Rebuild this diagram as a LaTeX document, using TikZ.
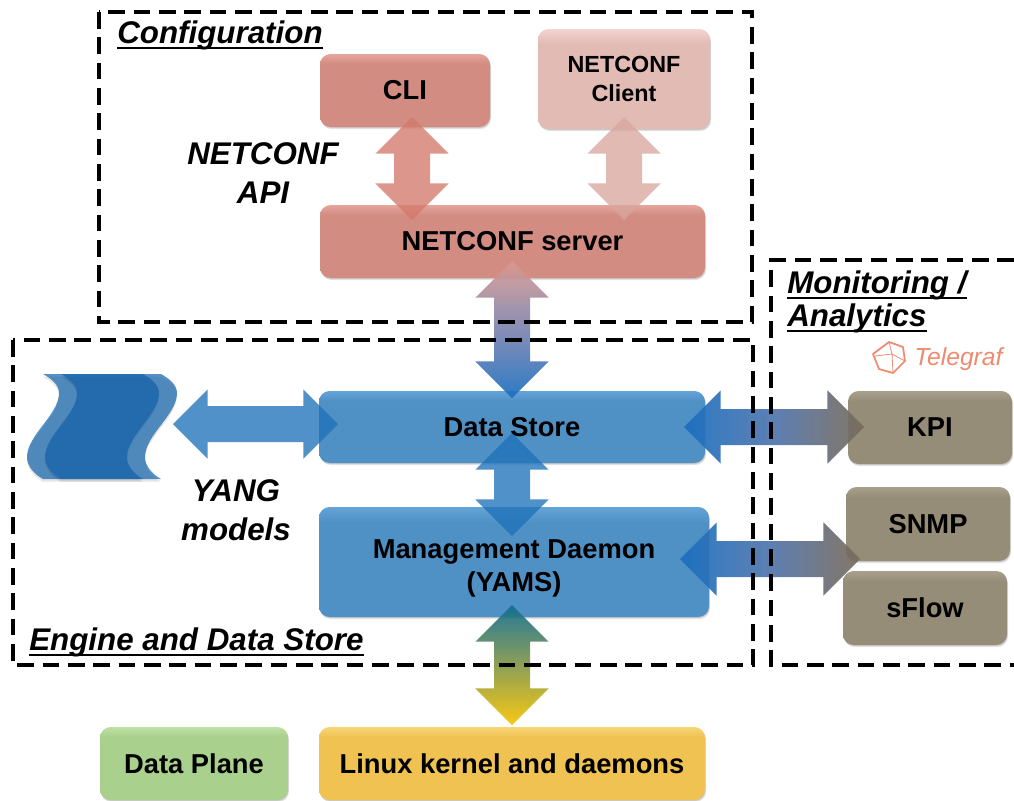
\documentclass[tikz,border=0pt]{standalone}
\usepackage{fontspec}
\setmainfont{Liberation Sans}
\usetikzlibrary{calc,shadows}
\definecolor{cPink}{HTML}{D28C82}
\definecolor{cPinkTop}{HTML}{E6A59B}
\definecolor{cPale}{HTML}{E3BBB5}
\definecolor{cPaleTop}{HTML}{F2D4CF}
\definecolor{cBlue}{HTML}{4F90C5}
\definecolor{cBlueTop}{HTML}{64A4D8}
\definecolor{cTaupe}{HTML}{968D79}
\definecolor{cTaupeTop}{HTML}{A89F8C}
\definecolor{cGreen}{HTML}{A9D08C}
\definecolor{cGreenTop}{HTML}{BDE0A4}
\definecolor{cYellow}{HTML}{EFC252}
\definecolor{cYellowTop}{HTML}{F8D676}
\definecolor{cArrowBlue}{HTML}{1A6FC0}
\definecolor{cArrowSoft}{HTML}{1F72BA}
\definecolor{cArrowPink}{HTML}{DC9A90}
\definecolor{cArrowCli}{HTML}{D4796B}
\definecolor{cArrowPale}{HTML}{D8A69E}
\definecolor{cArrowTeal}{HTML}{0F6C90}
\definecolor{cArrowGold}{HTML}{F7C400}
\definecolor{cArrowBrown}{HTML}{7A6B57}
\definecolor{cArrowMid}{HTML}{4F74AC}
\definecolor{cArrowMidV}{HTML}{7C84B0}
\definecolor{cWave}{HTML}{1565AD}
\definecolor{cTele}{HTML}{EE8A70}
\newcommand{\mkshade}[3]{\pgfdeclareverticalshading{#1}{100bp}{color(0bp)=(#2); color(68bp)=(#2); color(75bp)=(#3); color(100bp)=(#3)}}
\mkshade{shPink}{cPink}{cPinkTop}
\mkshade{shPale}{cPale}{cPaleTop}
\mkshade{shBlue}{cBlue}{cBlueTop}
\mkshade{shTaupe}{cTaupe}{cTaupeTop}
\mkshade{shGreen}{cGreen}{cGreenTop}
\mkshade{shYellow}{cYellow}{cYellowTop}
\tikzset{
  x=0.75pt,y=-0.75pt,
  softshadow/.style={general shadow={shadow xshift=0.8pt,shadow yshift=-1.6pt,fill=black,opacity=0.10},
                     general shadow={shadow xshift=0.4pt,shadow yshift=-0.8pt,fill=black,opacity=0.12}},
  blockbox/.style={rounded corners=8pt,inner sep=0pt,align=center,font=\fontsize{20.5}{25}\selectfont\bfseries,softshadow},
  pinkbox/.style={blockbox,shading=shPink},
  palebox/.style={blockbox,shading=shPale,font=\fontsize{17.5}{21.5}\selectfont\bfseries},
  bluebox/.style={blockbox,shading=shBlue},
  taupebox/.style={blockbox,shading=shTaupe},
  greenbox/.style={blockbox,shading=shGreen},
  yellowbox/.style={blockbox,shading=shYellow},
  regionline/.style={line width=2.3pt,dash pattern=on 12.5pt off 6.5pt,black},
  regiontitle/.style={inner sep=0pt,anchor=base west,font=\fontsize{23.5}{28}\selectfont\bfseries\itshape},
  titlerule/.style={line width=1.3pt,black},
  apilabel/.style={inner sep=0pt,align=center,font=\fontsize{23.5}{29}\selectfont\bfseries\itshape},
  blockarrow/.style={fill opacity=0.78,draw=none},
  strongarrow/.style={fill opacity=0.92,draw=none},
  wave/.style={fill=cWave,fill opacity=0.72,draw=none},
}
% name, x1, y1, x2, y2, style, text
\newcommand{\blockbox}[7]{%
  \pgfmathsetmacro{\bw}{(#4-#2)*0.75}\pgfmathsetmacro{\bh}{(#5-#3)*0.75}%
  \node[#6,minimum width=\bw pt,minimum height=\bh pt] (#1) at ({(#2+#4)/2},{(#3+#5)/2}) {#7};}
% from, to, head half width, head length, shaft half width (pt), shading
\newcommand{\blockarrow}[6]{%
  \coordinate (ha) at ($(#1)!#4pt!(#2)$);
  \coordinate (hb) at ($(#2)!#4pt!(#1)$);
  \path[blockarrow,#6] (#1) -- ($(ha)!#3pt!90:(#2)$) -- ($(ha)!#5pt!90:(#2)$)
     -- ($(hb)!#5pt!-90:(#1)$) -- ($(hb)!#3pt!-90:(#1)$) -- (#2)
     -- ($(hb)!#3pt!90:(#1)$) -- ($(hb)!#5pt!90:(#1)$)
     -- ($(ha)!#5pt!-90:(#2)$) -- ($(ha)!#3pt!-90:(#2)$) -- cycle;}
\newcommand{\wavepath}[1]{%
  \path[wave,general shadow={shadow yshift=-2pt,fill=black,opacity=0.10}] (43+#1,374) .. controls (52+#1,379) and (59+#1,385) .. (59+#1,393)
    .. controls (59+#1,415) and (27+#1,435) .. (27+#1,457)
    .. controls (27+#1,466) and (34+#1,474) .. (43+#1,479)
    -- (143+#1,479) .. controls (134+#1,474) and (127+#1,466) .. (127+#1,457)
    .. controls (127+#1,435) and (159+#1,415) .. (159+#1,393)
    .. controls (159+#1,385) and (152+#1,379) .. (143+#1,374) -- cycle;}
% title: name, x, baseline y, text
\newcommand{\regiontitle}[4]{%
  \node[regiontitle] (#1) at (#2,#3) {#4};
  \draw[titlerule] ([yshift=-3.6pt]#1.base west) -- ([yshift=-3.6pt]#1.base east);}
\begin{document}
\begin{tikzpicture}
\useasboundingbox (0,0) rectangle (1014,800);

% wave document (YANG models)
\wavepath{0}
\wavepath{18}

% boxes
\blockbox{cli}{320}{54}{490}{127}{pinkbox}{CLI}
\blockbox{client}{538}{29}{710}{129}{palebox}{NETCONF\\Client}
\blockbox{server}{320}{205}{705}{278}{pinkbox}{NETCONF server}
\blockbox{store}{319}{391}{705}{463}{bluebox}{Data Store}
\blockbox{daemon}{319}{507}{709}{617}{bluebox}{\rule{0pt}{24pt}Management Daemon\\(YAMS)}
\blockbox{kpi}{848}{391}{1012}{464}{taupebox}{KPI}
\blockbox{snmp}{846}{487}{1010}{561}{taupebox}{SNMP}
\blockbox{sflow}{843}{571}{1007}{645}{taupebox}{sFlow}
\blockbox{plane}{100}{727}{288}{800}{greenbox}{Data Plane}
\blockbox{linux}{319}{727}{705}{800}{yellowbox}{Linux kernel and daemons}

% connector ends
\coordinate (a1t) at (412,117);  \coordinate (a1b) at (412,220);
\coordinate (a2t) at (624,117);  \coordinate (a2b) at (624,220);
\coordinate (a3t) at (512,261);  \coordinate (a3b) at (512,398);
\coordinate (a4t) at (512,433);  \coordinate (a4b) at (512,536);
\coordinate (a5l) at (173,424);  \coordinate (a5r) at (338,424);
\coordinate (a6l) at (684,427);  \coordinate (a6r) at (864,427);
\coordinate (a7l) at (680,559);  \coordinate (a7r) at (860,559);
\coordinate (a8t) at (512,605);  \coordinate (a8b) at (512,725);

% block arrows
\blockarrow{a1t}{a1b}{27.5}{27.5}{13.5}{fill=cArrowCli}
\blockarrow{a2t}{a2b}{27.5}{27.5}{13.5}{fill=cArrowPale}
\blockarrow{a3t}{a3b}{27.5}{27.5}{13.5}{strongarrow,top color=cArrowPink,bottom color=cArrowBlue,middle color=cArrowMidV}
\blockarrow{a4t}{a4b}{27.5}{27.5}{13.5}{fill=cArrowSoft}
\blockarrow{a5l}{a5r}{26}{26}{13.5}{fill=cArrowSoft}
\blockarrow{a6l}{a6r}{27.5}{27.5}{13.5}{strongarrow,left color=cArrowBlue,right color=cArrowBrown,middle color=cArrowMid}
\blockarrow{a7l}{a7r}{27.5}{27.5}{13.5}{strongarrow,left color=cArrowBlue,right color=cArrowBrown,middle color=cArrowMid}
\blockarrow{a8t}{a8b}{27.5}{27.5}{13.5}{strongarrow,top color=cArrowTeal,bottom color=cArrowGold}

% region outlines
\draw[regionline] (99,12) rectangle (752,322);
\draw[regionline] (13,340) rectangle (753,665);
\draw[regionline] (1014,260) -- (771,260) -- (771,665) -- (1014,665);

% region titles
\regiontitle{tconf}{117}{43}{Configuration}
\regiontitle{tengine}{29}{650}{Engine and Data Store}
\regiontitle{tmon}{787}{293}{Monitoring /}
\regiontitle{tana}{787}{326}{Analytics}
\node[apilabel] (api) at (263,173) {NETCONF\\API};
\node[apilabel] (yang) at (236,510) {YANG\\models};

% Telegraf logo
\draw[cTele,line width=1.3pt,line join=round] (889,342) -- (903,347) -- (905,361) -- (893,373) -- (879,369) -- (873,354) -- cycle;
\draw[cTele,line width=0.6pt] (889,342) -- (892,354) -- (905,361) (892,354) -- (875,356) (892,354) -- (893,373);
\node[inner sep=0pt,anchor=west,text=cTele,font=\fontsize{18.5}{22}\selectfont\itshape] (telegraf) at (914,359) {Telegraf};
\end{tikzpicture}
\end{document}
